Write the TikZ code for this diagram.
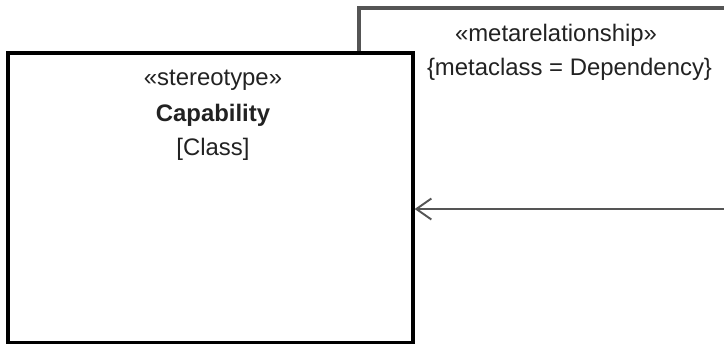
\documentclass[tikz,border=0pt]{standalone}
\usepackage{fontspec}
\setmainfont{Liberation Sans}
\usepackage{tikz}
\usetikzlibrary{arrows.meta,shapes,positioning}
\usepackage{xcolor}
\definecolor{framegray}{HTML}{555555}
\definecolor{textdark}{HTML}{222222}

\begin{document}
\begin{tikzpicture}[
    box/.style={rectangle, draw=black, fill=white, line width=1.9pt, minimum width=8.1cm, minimum height=5.8cm, inner sep=0pt},
    metabox/.style={rectangle, draw=framegray, fill=white, line width=1.9pt, minimum width=10.82cm, minimum height=8.24cm, inner sep=0pt},
    lbl/.style={anchor=base, inner sep=0pt, text=textdark, font=\fontsize{13.6}{16}\selectfont},
    arrow/.style={-{Straight Barb[length=3mm,width=4.2mm,line width=1.1pt]}, draw=framegray, line width=1.7pt}
]
\clip (0,0) rectangle (14.48,-6.86);

% Metarelationship (partly outside the picture)
\node[metabox] (metarel) at (12.59,-4.28) {};
\node[lbl] (metastereo) at (11.12,-0.82) {«metarelationship»};
\node[lbl] (metaclass) at (11.39,-1.50) {\{metaclass = Dependency\}};

% Stereotype box
\node[box] (cap) at (4.21,-3.96) {};
\node[lbl] (capstereo) at (4.26,-1.70) {«stereotype»};
\node[lbl, font=\fontsize{13.6}{16}\selectfont\bfseries] (capname) at (4.26,-2.42) {Capability};
\node[lbl] (capkind) at (4.26,-3.10) {[Class]};

% Arrow
\coordinate (metaend) at (14.7,-4.18);
\draw[arrow] (metaend) -- (metaend -| cap.east);

\end{tikzpicture}
\end{document}
